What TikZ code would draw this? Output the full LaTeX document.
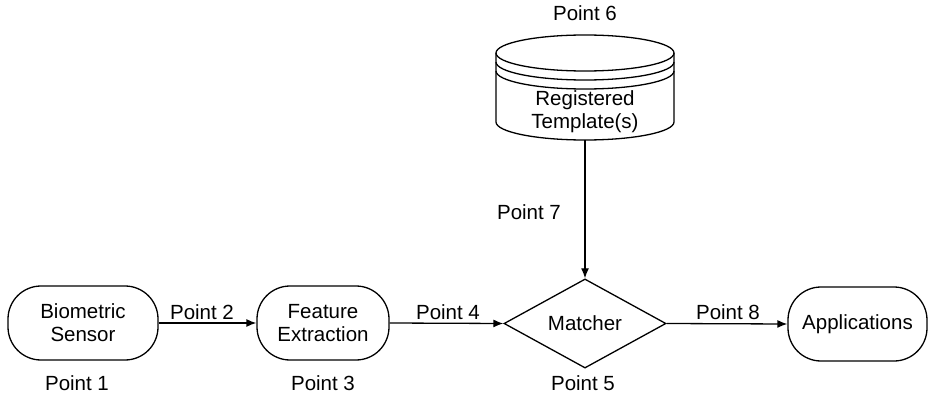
\documentclass[tikz,border=0pt]{standalone}
\usepackage{fontspec}
\setmainfont{Liberation Sans}
\usetikzlibrary{shapes.geometric,arrows.meta}
\begin{document}
\begin{tikzpicture}[x=1pt,y=-1pt,
  every node/.style={font=\fontsize{20.5}{23}\selectfont},
  stage/.style={draw,line width=1.3pt,rounded corners=33pt,align=center,inner sep=0pt},
  decide/.style={draw,line width=1.3pt,diamond,inner sep=0pt,minimum width=162pt,minimum height=73pt},
  flow/.style={line width=1.3pt,-{Latex[length=10pt,width=8pt]}},
  tag/.style={inner sep=0pt,anchor=center}]
\useasboundingbox (0,0) rectangle (929,398);

% processing stages
\node[stage,minimum width=150pt,minimum height=74pt] (sensor) at (83,323) {Biometric\\Sensor};
\node[stage,minimum width=132pt,minimum height=74pt] (feat) at (323,323) {Feature\\Extraction};
\node[decide] (match) at (585,323.5) {Matcher};
\node[stage,minimum width=139pt,minimum height=74pt] (apps) at (857.5,324) {Applications};

% template database drawn as a cylinder
\begin{scope}[line width=1.3pt]
  \draw (496,53) -- (496,122) arc[start angle=180,end angle=360,x radius=89pt,y radius=18pt] -- (674,53);
  \draw (585,53) ellipse [x radius=89pt,y radius=18pt];
  \draw (496,62) arc[start angle=180,end angle=360,x radius=89pt,y radius=18pt];
  \draw (496,71) arc[start angle=180,end angle=360,x radius=89pt,y radius=18pt];
\end{scope}
\node[align=center,inner sep=0pt] (db) at (585,112) {Registered\\Template(s)};
\coordinate (dbbottom) at (585,140);

% connectors
\draw[flow] (sensor.east) -- (feat.west);
\draw[flow] (feat.east) -- (match.west);
\draw[flow] (match.east) -- (apps.west);
\draw[flow] (dbbottom) -- (match.north);

% attack point labels
\node[tag] (p1) at (77,383) {Point 1};
\node[tag] (p2) at (202,312) {Point 2};
\node[tag] (p3) at (323,383) {Point 3};
\node[tag] (p4) at (448,312) {Point 4};
\node[tag] (p5) at (583,383) {Point 5};
\node[tag] (p6) at (585,13) {Point 6};
\node[tag] (p7) at (529,212) {Point 7};
\node[tag] (p8) at (728,312) {Point 8};
\end{tikzpicture}
\end{document}
